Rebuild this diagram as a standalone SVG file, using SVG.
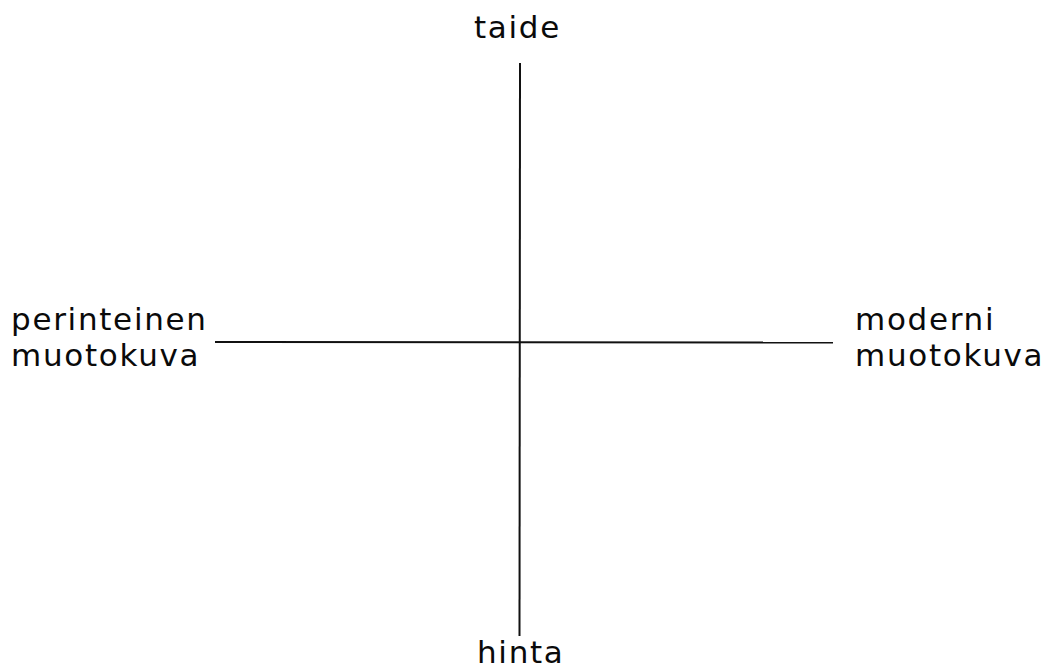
<svg xmlns="http://www.w3.org/2000/svg" width="1047" height="670" viewBox="0 0 1047 670">
<style>
.lbl{font-family:"DejaVu Sans","Liberation Sans",sans-serif;font-size:31px;letter-spacing:1.7px;fill:#0a0a0a}
.axis{stroke:#111;stroke-width:2;fill:none}
</style>
<rect width="1047" height="670" fill="#fff"/>
<g id="connectors">
<line class="axis" x1="520" y1="63" x2="519.5" y2="636"/>
<line class="axis" x1="215" y1="342" x2="833" y2="342.5"/>
</g>
<g id="top"><text class="lbl" x="474" y="38">taide</text></g>
<g id="bottom"><text class="lbl" x="477" y="663">hinta</text></g>
<g id="left"><text class="lbl" x="11" y="330">perinteinen</text><text class="lbl" x="11" y="366">muotokuva</text></g>
<g id="right"><text class="lbl" x="855" y="330">moderni</text><text class="lbl" x="855" y="366">muotokuva</text></g>
</svg>
